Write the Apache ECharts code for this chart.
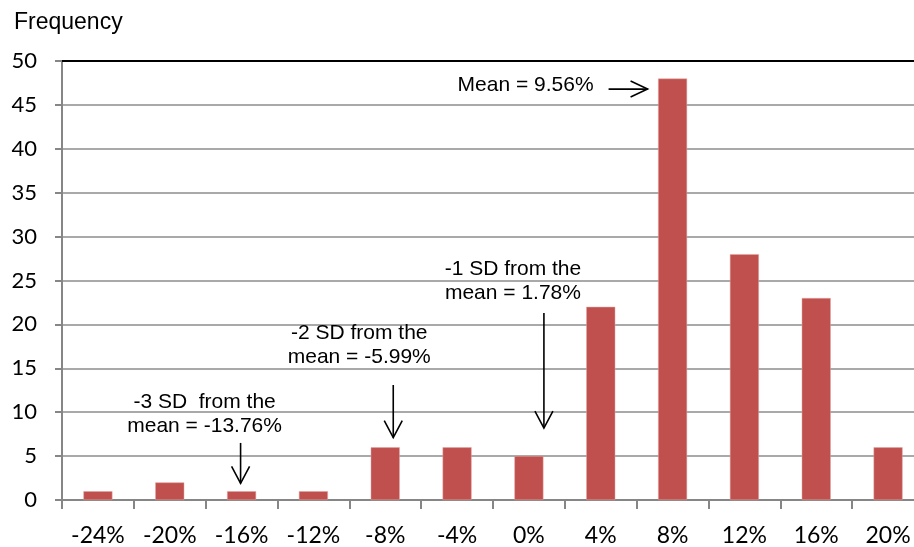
<!DOCTYPE html>
<html lang="en">
<head>
    <meta charset="UTF-8">
    <title>Frequency histogram</title>
    <style>
        html, body { margin: 0; padding: 0; background: #fff; }
    </style>
    <script src="https://cdn.jsdelivr.net/npm/echarts@6/dist/echarts.min.js"></script>
</head>
<body>
    <div id="main" style="width:914px;height:547px"></div>
    <script>
        var categories = ['-24%', '-20%', '-16%', '-12%', '-8%', '-4%', '0%', '4%', '8%', '12%', '16%', '20%'];
        var frequency = [1, 2, 1, 1, 6, 6, 5, 22, 48, 28, 23, 6];
        var yTicks = { min: 0, max: 50, interval: 5 };

        var main = document.getElementById('main');
        var myChart = echarts.init(main);

        var option = {
            animation: false,
            title: {
                text: 'Frequency',
                left: 9, top: 6,
                textStyle: { fontFamily: 'Liberation Sans', fontSize: 23, fontWeight: 'normal', color: '#000' }
            },
            // plot area runs a little past the right edge of the picture
            grid: { left: 62, width: 862, top: 61, bottom: 47, outerBoundsMode: 'none', containLabel: false },
            xAxis: [{
                type: 'category',
                data: categories,
                axisLine: { lineStyle: { color: '#868686', width: 2 } },
                axisTick: { show: true, length: 9, lineStyle: { color: '#868686', width: 2 } },
                axisLabel: { fontFamily: 'Lato', fontSize: 23, color: '#000', margin: 24 }
            }, {
                type: 'category',
                position: 'top',
                data: categories,
                axisLine: { lineStyle: { color: '#000', width: 2 } },
                axisTick: { show: false },
                axisLabel: { show: false }
            }],
            yAxis: {
                type: 'value',
                min: yTicks.min, max: yTicks.max, interval: yTicks.interval,
                axisLine: { show: true, lineStyle: { color: '#868686', width: 2 } },
                axisTick: { show: true, length: 7, lineStyle: { color: '#868686', width: 2 } },
                splitLine: { lineStyle: { color: '#8c8c8c', width: 1.5 } },
                axisLabel: { fontFamily: 'Lato', fontSize: 22, color: '#000', margin: 25 }
            },
            series: [{
                type: 'bar',
                data: frequency,
                barWidth: 29,
                itemStyle: { color: '#C0504D', borderColor: '#e2a6a4', borderWidth: 0.5 }
            }]
        };
        myChart.setOption(option);

        // annotations anchored to the axes
        function px(cat, val) { return myChart.convertToPixel({ xAxisIndex: 0, yAxisIndex: 0 }, [cat, val]); }
        var txtStyle = { fontFamily: 'Liberation Sans', fontSize: 21, fill: '#000', align: 'center', verticalAlign: 'middle', lineHeight: 24 };
        var lineStyle = { stroke: '#000', lineWidth: 1.6, fill: null };

        function text(x, y, s) {
            return { type: 'text', x: x, y: y, style: Object.assign({ text: s }, txtStyle) };
        }
        function downArrow(x, y1, y2) {
            return [
                { type: 'line', shape: { x1: x, y1: y1, x2: x, y2: y2 }, style: lineStyle },
                { type: 'polyline', shape: { points: [[x - 9, y2 - 17], [x, y2], [x + 9, y2 - 17]] }, style: lineStyle }
            ];
        }
        function rightArrow(x1, x2, y) {
            return [
                { type: 'line', shape: { x1: x1, y1: y, x2: x2, y2: y }, style: lineStyle },
                { type: 'polyline', shape: { points: [[x2 - 17, y - 8], [x2, y], [x2 - 17, y + 8]] }, style: lineStyle }
            ];
        }

        var p8 = px('8%', 46.8);
        var p0 = px('0%', 21.3);
        var p0b = px('0%', 8.2);
        var m8 = px('-8%', 13.1);
        var m8b = px('-8%', 7.1);
        var m16 = px('-16%', 6.5);
        var m16b = px('-16%', 1.9);

        var g = [];
        g.push(text(p8[0] - 147, p8[1] - 4, 'Mean = 9.56%'));
        g = g.concat(rightArrow(p8[0] - 64, p8[0] - 25, p8[1]));
        g.push(text(p0[0] - 16, p0[1] - 32, '-1 SD from the\nmean = 1.78%'));
        g = g.concat(downArrow(p0[0] + 15, p0[1], p0b[1]));
        g.push(text(m8[0] - 26, m8[1] - 40, '-2 SD from the\nmean = -5.99%'));
        g = g.concat(downArrow(m8[0] + 8, m8[1], m8b[1]));
        g.push(text(m16[0] - 37, m16[1] - 29, '-3 SD  from the\nmean = -13.76%'));
        g = g.concat(downArrow(m16[0] - 1, m16[1], m16b[1]));

        myChart.setOption({ graphic: g });
    </script>
</body>
</html>
